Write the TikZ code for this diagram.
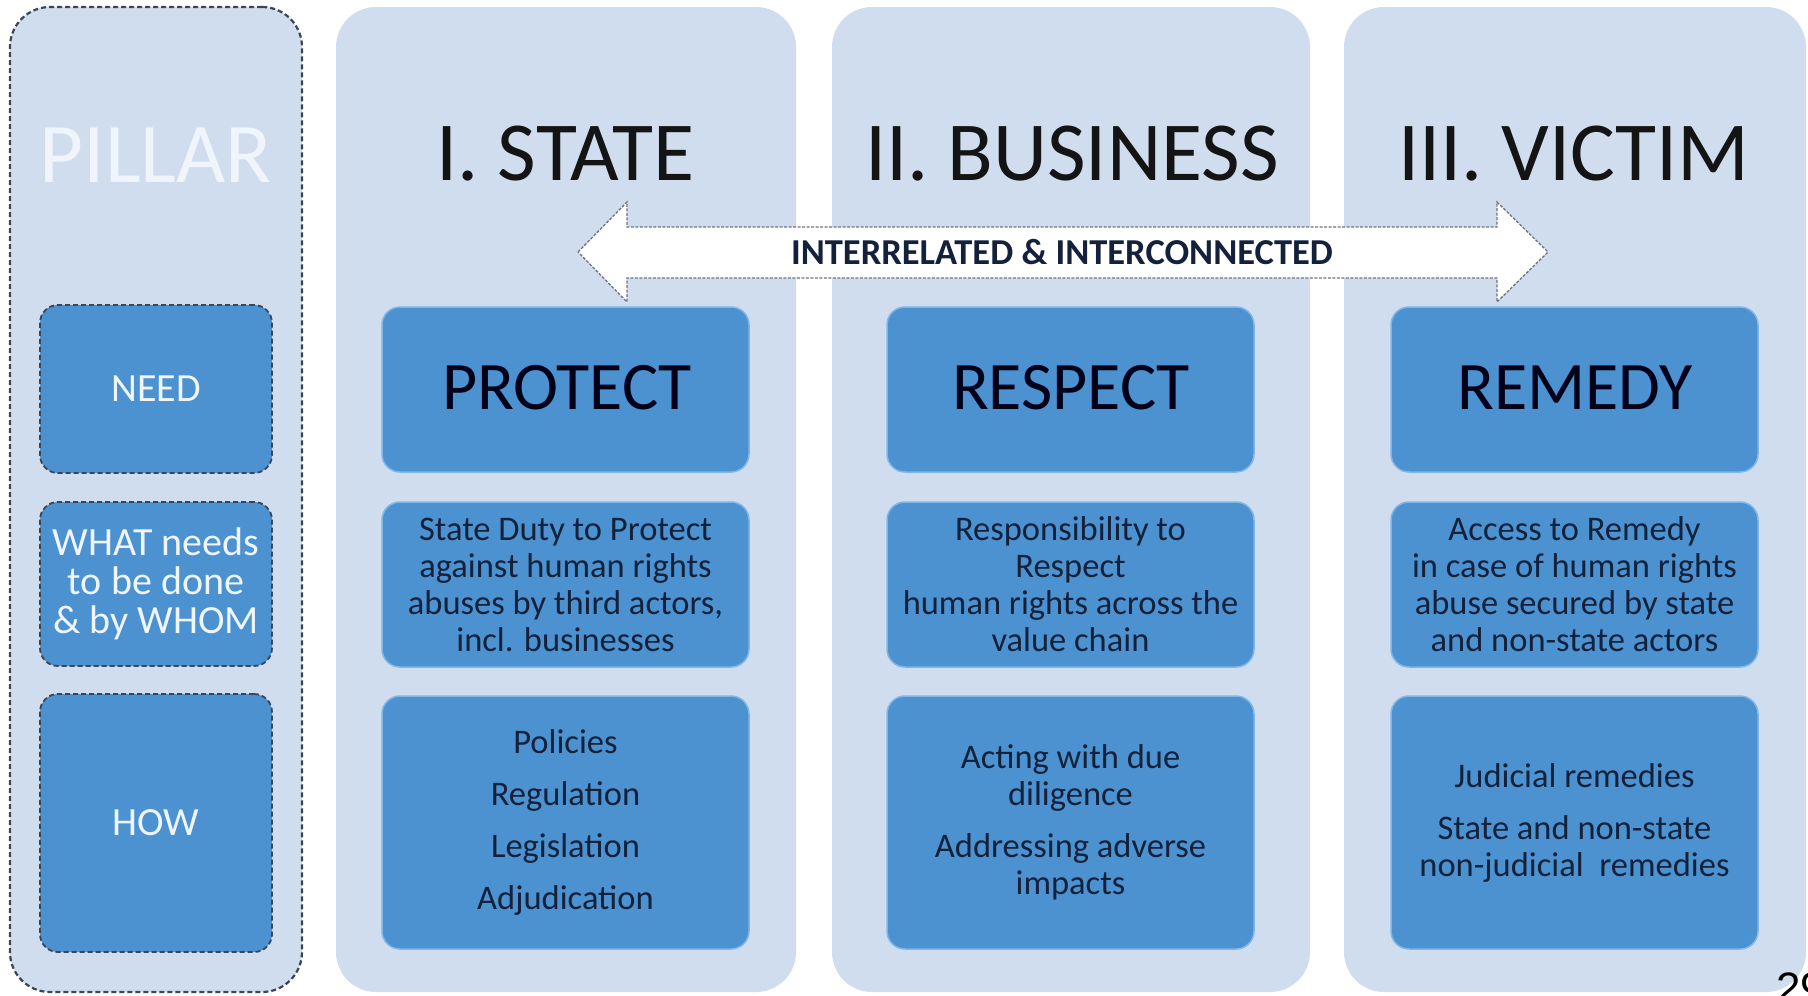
\documentclass[tikz,border=0pt]{standalone}
\usepackage{fontspec}
\setmainfont{Carlito}
\newfontfamily\arialfont{Liberation Sans}
\definecolor{panel}{RGB}{208,221,238}
\definecolor{boxblue}{RGB}{76,146,208}
\definecolor{boxedge}{RGB}{128,182,230}
\definecolor{navy}{RGB}{20,33,58}
\definecolor{dashgray}{RGB}{58,70,88}
\definecolor{arrowgray}{RGB}{110,115,125}
\definecolor{paleword}{RGB}{240,245,251}
\tikzset{
  panelbox/.style={fill=panel, rounded corners=40pt, inner sep=0pt},
  pillarpanel/.style={panelbox, draw=dashgray, line width=2.2pt, dash pattern=on 5pt off 3pt},
  bluebox/.style={fill=boxblue, draw=boxedge, line width=1.5pt, rounded corners=18pt, inner sep=0pt, minimum width=367pt},
  pillarbox/.style={fill=boxblue, draw=dashgray, line width=1.8pt, dash pattern=on 5pt off 3pt, rounded corners=18pt, inner sep=0pt, minimum width=232pt},
  titletext/.style={anchor=base, inner sep=0pt, text=black!92, font=\fontsize{84}{90}\selectfont},
  headtext/.style={anchor=base, inner sep=0pt, text=black!90!blue, font=\fontsize{68}{72}\selectfont},
  bodytext/.style={align=center, inner sep=0pt, text=navy, font=\fontsize{34.5}{37}\selectfont},
  pillartext/.style={align=center, inner sep=0pt, text=paleword, font=\fontsize{40}{39}\selectfont},
  arrowshape/.style={fill=white, draw=arrowgray, line width=1.3pt, dash pattern=on 3pt off 1.5pt},
  arrowlabel/.style={inner sep=0pt, text=navy, font=\bfseries\fontsize{36.5}{38}\selectfont}
}
\begin{document}
\begin{tikzpicture}[x=1pt, y=-1pt]
\useasboundingbox (0,0) rectangle (1808,996);
\fill[white] (0,0) rectangle (1808,996);

% panels
\node[pillarpanel, minimum width=292pt, minimum height=985pt] (pillar) at (156,499.5) {};
\node[panelbox, minimum width=460pt, minimum height=985pt] (colA) at (566,499.5) {};
\node[panelbox, minimum width=478pt, minimum height=985pt] (colB) at (1071,499.5) {};
\node[panelbox, minimum width=462pt, minimum height=985pt] (colC) at (1575,499.5) {};

% titles
\node[anchor=base, inner sep=0pt, text=paleword, font=\fontsize{85}{90}\selectfont] (tP) at (156,182) {PILLAR};
\node[titletext] (tA) at (565.5,180) {I. STATE};
\node[titletext] (tB) at (1072,180) {II. BUSINESS};
\node[titletext] (tC) at (1574,180) {III. VICTIM};

% pillar boxes
\node[pillarbox, minimum height=168pt] (need) at (156,389) {};
\node[pillarbox, minimum height=164pt] (what) at (156,584) {};
\node[pillarbox, minimum height=258pt] (how) at (156,823) {};
\node[pillartext] at (need.center) {NEED};
\node[pillartext] at (what.center) {WHAT needs\\to be done\\\& by WHOM};
\node[pillartext] at (how.center) {HOW};

% row 1
\node[bluebox, minimum height=165pt] (protect) at (565.5,389.5) {};
\node[bluebox, minimum height=165pt] (respect) at (1070.5,389.5) {};
\node[bluebox, minimum height=165pt] (remedy) at (1574.5,389.5) {};
\node[headtext] at (567,409) {PROTECT};
\node[headtext] at (1071,409) {RESPECT};
\node[headtext] at (1575,409) {REMEDY};

% row 2
\node[bluebox, minimum height=165pt] (dutyA) at (565.5,584.5) {};
\node[bluebox, minimum height=165pt] (dutyB) at (1070.5,584.5) {};
\node[bluebox, minimum height=165pt] (dutyC) at (1574.5,584.5) {};
\node[bodytext] at (dutyA.center) {State Duty to Protect\\against human rights\\abuses by third actors,\\incl. businesses};
\node[bodytext] at (dutyB.center) {Responsibility to\\Respect\\human rights across the\\value chain};
\node[bodytext] at (dutyC.center) {Access to Remedy\\in case of human rights\\abuse secured by state\\and non-state actors};

% row 3
\node[bluebox, minimum height=253pt] (howA) at (565.5,822.5) {};
\node[bluebox, minimum height=253pt] (howB) at (1070.5,822.5) {};
\node[bluebox, minimum height=253pt] (howC) at (1574.5,822.5) {};
\node[bodytext] at (howA.center) {Policies\\[15pt]Regulation\\[15pt]Legislation\\[15pt]Adjudication};
\node[bodytext] at (howB.center) {Acting with due\\diligence\\[15pt]Addressing adverse\\impacts};
\node[bodytext] at (howC.center) {Judicial remedies\\[15pt]State and non-state\\non-judicial\ \ remedies};

% double arrow
\coordinate (aL) at (578,252);
\coordinate (aR) at (1548,252);
\path[arrowshape] (aL) -- (627,202) -- (627,227) -- (1497,227) -- (1497,202) -- (aR)
  -- (1497,302) -- (1497,278) -- (627,278) -- (627,302) -- cycle;
\node[arrowlabel] (link) at (1062,252) {INTERRELATED \& INTERCONNECTED};

% page number
\node[anchor=base west, inner sep=0pt, font=\arialfont\fontsize{44}{48}\selectfont] (pg) at (1776,1003) {29};
\end{tikzpicture}
\end{document}
